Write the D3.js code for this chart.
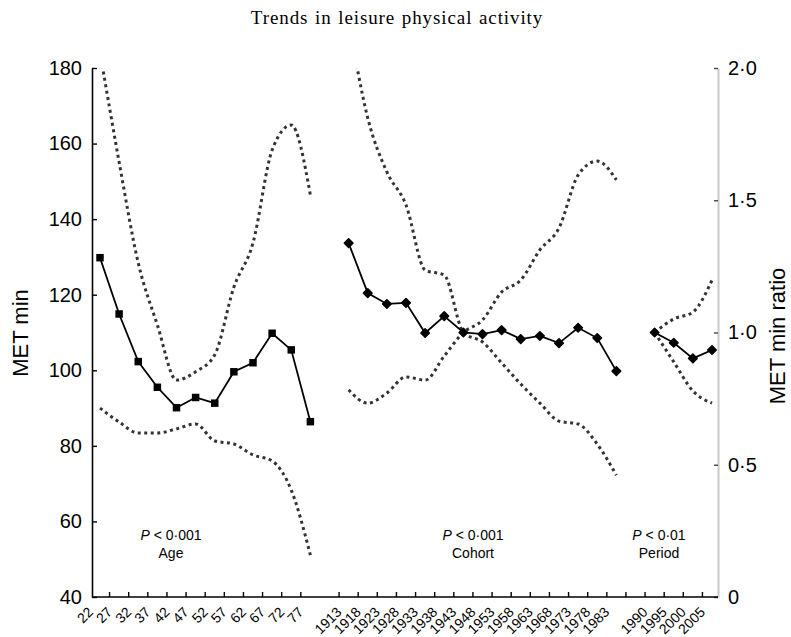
<!DOCTYPE html>
<html><head><meta charset="utf-8">
<script src="https://cdn.jsdelivr.net/npm/d3@7"></script>
<style>
html,body{margin:0;padding:0;background:#fff;}
svg{display:block;}
</style></head>
<body>
<script>
// ---- data ----
const ageLabels = ["22","27","32","37","42","47","52","57","62","67","72","77"];
const ageMET    = [129.8,114.9,102.3,95.5,90.1,92.8,91.3,99.6,102.0,109.8,105.4,86.4];
const ageUpper  = [184.2,155.1,128.4,112.0,97.4,99.6,104.1,122.0,133.7,158.3,164.9,146.4];
const ageLower  = [90.0,86.3,83.4,83.4,84.5,85.8,81.3,80.5,77.6,76.0,68.3,51.1];

const cohortLabels = ["1913","1918","1923","1928","1933","1938","1943","1948","1953","1958","1963","1968","1973","1978","1983"];
const cohortRatio  = [1.338,1.149,1.108,1.112,0.998,1.062,1.0,0.994,1.009,0.975,0.987,0.960,1.018,0.979,0.854];
const cohortBandA  = [2.181,1.811,1.607,1.482,1.236,1.217,1.0,0.964,0.885,0.805,0.733,0.665,0.654,0.578,0.46];
const cohortBandB  = [0.783,0.733,0.771,0.832,0.820,0.911,1.0,1.047,1.153,1.198,1.312,1.395,1.595,1.648,1.577];

const periodLabels = ["1990","1995","2000","2005"];
const periodRatio  = [1.0,0.961,0.902,0.934];
const periodUpper  = [1.0,1.051,1.077,1.198];
const periodLower  = [1.0,0.889,0.779,0.733];

const leftTicks  = [40,60,80,100,120,140,160,180];
const rightTicks = [0,0.5,1.0,1.5,2.0];

const annotations = [
  {group:"age", p:"0·001", name:"Age"},
  {group:"cohort", p:"0·001", name:"Cohort"},
  {group:"period", p:"0·01", name:"Period"}
];

// ---- layout ----
const W = 791, H = 637;
const pL = 92, pR = 718, pT = 68, pB = 597;
const sans = "'Liberation Sans', Arial, Helvetica, sans-serif";

const svg = d3.select("body").append("svg").attr("width", W).attr("height", H);

const yL = d3.scaleLinear().domain([40,180]).range([pB, pT]);
const yR = d3.scaleLinear().domain([0,2]).range([pB, pT]);

const slots = [...ageLabels.map(d=>"a"+d), "gap1", ...cohortLabels.map(d=>"c"+d), "gap2", ...periodLabels.map(d=>"p"+d)];
const x = d3.scalePoint().domain(slots).range([100, 712]);
const step = x.step();

// title
svg.append("text").attr("x", 397).attr("y", 24).attr("text-anchor","middle")
  .attr("font-family","'Liberation Serif', 'Times New Roman', serif").attr("font-size",19)
  .attr("letter-spacing","0.9px").attr("word-spacing","1px")
  .text("Trends in leisure physical activity");

// clip
svg.append("clipPath").attr("id","plot").append("rect")
  .attr("x", pL).attr("y", pT).attr("width", pR-pL).attr("height", pB-pT);

// left axis
const gL = svg.append("g").attr("transform",`translate(${pL},0)`)
  .call(d3.axisLeft(yL).tickValues(leftTicks).tickSize(-5).tickSizeOuter(0).tickPadding(10).tickFormat(d3.format("d")));
gL.select(".domain").attr("stroke","#000").attr("stroke-width",1.6);
gL.selectAll(".tick line").attr("stroke","#000").attr("stroke-width",1.4);
gL.selectAll(".tick text").attr("font-family",sans).attr("font-size",20).attr("fill","#000");

// right axis
const gR = svg.append("g").attr("transform",`translate(${pR},0)`)
  .call(d3.axisRight(yR).tickValues(rightTicks).tickSize(-4).tickSizeOuter(0).tickPadding(10)
    .tickFormat(d => d===0 ? "0" : d.toFixed(1).replace(".","·")));
gR.select(".domain").attr("stroke","#c8c8c8").attr("stroke-width",2);
gR.selectAll(".tick line").attr("stroke","#444").attr("stroke-width",1.4);
gR.selectAll(".tick text").attr("font-family",sans).attr("font-size",20).attr("fill","#000");

// bottom axis
svg.append("line").attr("x1", pL).attr("x2", pR).attr("y1", pB).attr("y2", pB)
  .attr("stroke","#000").attr("stroke-width",1.6);
const tickSlots = slots.filter((s,i) => i > 0 && s !== "gap1");
svg.append("g").selectAll("line").data(tickSlots).join("line")
  .attr("x1", d => x(d) - step/2).attr("x2", d => x(d) - step/2)
  .attr("y1", pB).attr("y2", pB - 5)
  .attr("stroke","#000").attr("stroke-width",1.4);
const labelSlots = slots.filter(s => !s.startsWith("gap"));
svg.append("g").selectAll("text").data(labelSlots).join("text")
  .attr("transform", d => `translate(${x(d) - 6},${613})rotate(-45)`)
  .attr("text-anchor","end").attr("font-family",sans).attr("font-size",14)
  .text(d => d.slice(1));

// axis titles
svg.append("text").attr("transform","translate(28,333)rotate(-90)").attr("text-anchor","middle")
  .attr("font-family",sans).attr("font-size",22).text("MET min");
svg.append("text").attr("transform","translate(785,336)rotate(-90)").attr("text-anchor","middle")
  .attr("font-family",sans).attr("font-size",22).text("MET min ratio");

// series
const plot = svg.append("g").attr("clip-path","url(#plot)");
function dotted(keys, vals, yScale) {
  const line = d3.line().x((d,i)=>x(keys[i])).y(d=>yScale(d)).curve(d3.curveMonotoneX);
  plot.append("path").attr("d", line(vals)).attr("fill","none")
    .attr("stroke","#333").attr("stroke-width",3).attr("stroke-dasharray","3,3.5");
}
function solid(keys, vals, yScale) {
  const line = d3.line().x((d,i)=>x(keys[i])).y(d=>yScale(d));
  plot.append("path").attr("d", line(vals)).attr("fill","none")
    .attr("stroke","#000").attr("stroke-width",1.8);
}
const aKeys = ageLabels.map(d=>"a"+d);
const cKeys = cohortLabels.map(d=>"c"+d);
const pKeys = periodLabels.map(d=>"p"+d);

dotted(aKeys, ageUpper, yL);
dotted(aKeys, ageLower, yL);
dotted(cKeys, cohortBandA, yR);
dotted(cKeys, cohortBandB, yR);
dotted(pKeys, periodUpper, yR);
dotted(pKeys, periodLower, yR);

solid(aKeys, ageMET, yL);
solid(cKeys, cohortRatio, yR);
solid(pKeys, periodRatio, yR);

const sq = d3.symbol().type(d3.symbolSquare).size(56);
svg.append("g").selectAll("path").data(ageMET).join("path")
  .attr("d", sq).attr("transform",(d,i)=>`translate(${x(aKeys[i])},${yL(d)})`).attr("fill","#000");
const dia = d3.symbol().type(d3.symbolSquare).size(36);
svg.append("g").selectAll("path").data(cohortRatio).join("path")
  .attr("d", dia).attr("transform",(d,i)=>`translate(${x(cKeys[i])},${yR(d)})rotate(45)`)
  .attr("fill","#000").attr("stroke","#000").attr("stroke-width",1.6).attr("stroke-linejoin","round");
svg.append("g").selectAll("path").data(periodRatio).join("path")
  .attr("d", dia).attr("transform",(d,i)=>`translate(${x(pKeys[i])},${yR(d)})rotate(45)`)
  .attr("fill","#000").attr("stroke","#000").attr("stroke-width",1.6).attr("stroke-linejoin","round");

// annotations
const annX = {age: 171, cohort: 473, period: 659};
annotations.forEach(a => {
  const t = svg.append("text").attr("x", annX[a.group]).attr("y", 540).attr("text-anchor","middle")
    .attr("font-family",sans).attr("font-size",14);
  t.append("tspan").attr("font-style","italic").text("P");
  t.append("tspan").text(" < " + a.p);
  svg.append("text").attr("x", annX[a.group]).attr("y", 558).attr("text-anchor","middle")
    .attr("font-family",sans).attr("font-size",14).text(a.name);
});
</script>
</body></html>
